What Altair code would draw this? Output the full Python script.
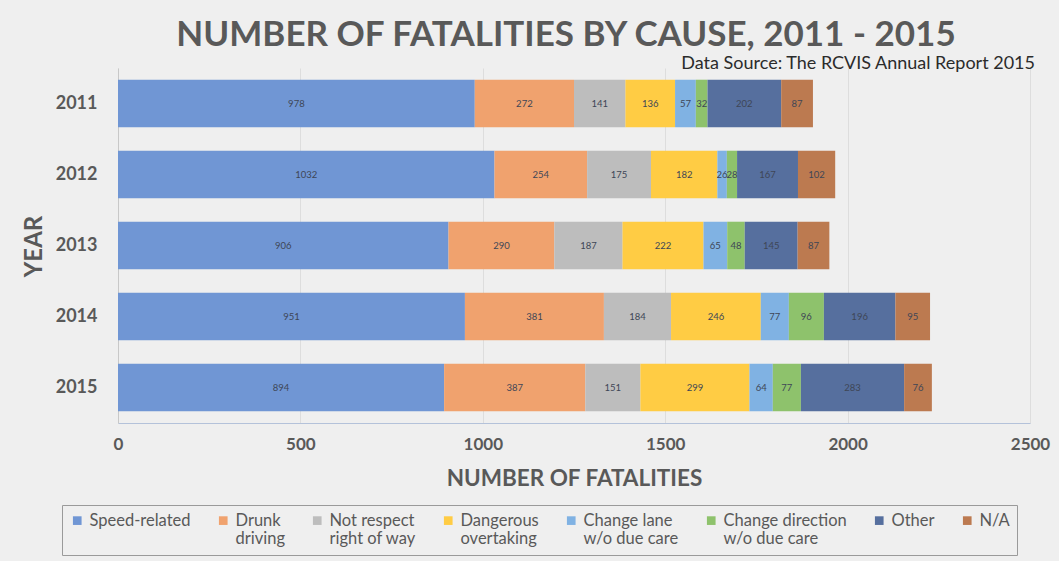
import altair as alt
import pandas as pd

years = ["2011", "2012", "2013", "2014", "2015"]
causes = ["Speed-related", "Drunk|driving", "Not respect|right of way", "Dangerous|overtaking",
          "Change lane|w/o due care", "Change direction|w/o due care", "Other", "N/A"]
colors = ["#7096D4", "#F0A26E", "#BDBDBD", "#FFCC44", "#80B2E3", "#8EC26C", "#566F9E", "#BC7A50"]

speed = [978, 1032, 906, 951, 894]
drunk = [272, 254, 290, 381, 387]
right_of_way = [141, 175, 187, 184, 151]
overtaking = [136, 182, 222, 246, 299]
change_lane = [57, 26, 65, 77, 64]
change_dir = [32, 28, 48, 96, 77]
other = [202, 167, 145, 196, 283]
na = [87, 102, 87, 95, 76]

series = [speed, drunk, right_of_way, overtaking, change_lane, change_dir, other, na]

rows = []
for yi, y in enumerate(years):
    for ci, c in enumerate(causes):
        rows.append({"year": y, "cause": c, "order": ci, "value": series[ci][yi]})
df = pd.DataFrame(rows)

FONT = "Lato"
TXT = "#595959"

base = alt.Chart(df).transform_window(
    end="sum(value)", groupby=["year"], sort=[{"field": "order"}], frame=[None, 0]
).transform_calculate(
    start="datum.end - datum.value", mid="datum.end - datum.value / 2"
)

yenc = alt.Y("year:N", sort=years,
             scale=alt.Scale(paddingInner=0.33, paddingOuter=0.165),
             axis=alt.Axis(title="YEAR", titleFontSize=24, titleFontWeight="bold", titleColor=TXT,
                           titleFont=FONT, titleX=-84, titleY=178, titleAngle=-90,
                           titleAlign="center", titleBaseline="middle",
                           labelFontSize=18, labelFontWeight="bold", labelColor=TXT, labelFont=FONT,
                           labelPadding=21, ticks=False, domainColor="#C8C8C8", grid=False))

bars = base.mark_bar().encode(
    x=alt.X("start:Q", scale=alt.Scale(domain=[0, 2500], nice=False),
            axis=alt.Axis(values=[0, 500, 1000, 1500, 2000, 2500], format="d",
                          title="NUMBER OF FATALITIES",
                          titleFontSize=22.5, titleFontWeight="bold", titleColor=TXT, titleFont=FONT,
                          titlePadding=15, labelFontSize=17, labelFontWeight="bold", labelColor=TXT,
                          labelFont=FONT, labelPadding=13, ticks=False, domainColor="#B4C2DA",
                          gridColor="#DDDDDD", gridWidth=1, labelFlush=False)),
    x2="end:Q",
    y=yenc,
    color=alt.Color("cause:N", sort=causes,
                    scale=alt.Scale(domain=causes, range=colors),
                    legend=alt.Legend(title=None, orient="none", legendX=-56, legendY=437,
                                      direction="horizontal", columns=8,
                                      labelExpr="indexof(datum.label, '|') >= 0 ? split(datum.label, '|') : [datum.label, ' ']",
                                      labelFontSize=16.5, labelColor=TXT, labelFont=FONT,
                                      labelBaseline="middle",
                                      symbolType="square", symbolSize=75, symbolStrokeWidth=0,
                                      columnPadding=24, strokeColor="#9A9A9A", padding=7,
                                      labelOffset=4, fillColor="#EFEFEF")),
)

labels = base.mark_text(fontSize=9.5, color="#3E4656", font=FONT).encode(
    x="mid:Q", y=alt.Y("year:N", sort=years), text="value:Q"
)

sub = alt.Chart(pd.DataFrame({"t": ["Data Source: The RCVIS Annual Report 2015"]})).mark_text(
    align="right", baseline="middle", fontSize=18, color="#2B2B2B", font=FONT
).encode(x=alt.value(917), y=alt.value(-4), text="t:N")

chart = alt.layer(bars, labels, sub).properties(
    width=912, height=355,
    title=alt.TitleParams("NUMBER OF FATALITIES BY CAUSE, 2011 - 2015", fontSize=35, font=FONT,
                          fontWeight="bold", color=TXT, anchor="middle", baseline="alphabetic",
                          offset=-26, dx=-8),
    background="#EFEFEF",
    padding={"left": 118, "top": 68, "right": 29, "bottom": 138},
    autosize=alt.AutoSizeParams(type="none"),
).configure_view(stroke=None).configure_axis(labelFont=FONT, titleFont=FONT)

chart.save("out.html", embed_options={"renderer": "svg", "actions": False})
